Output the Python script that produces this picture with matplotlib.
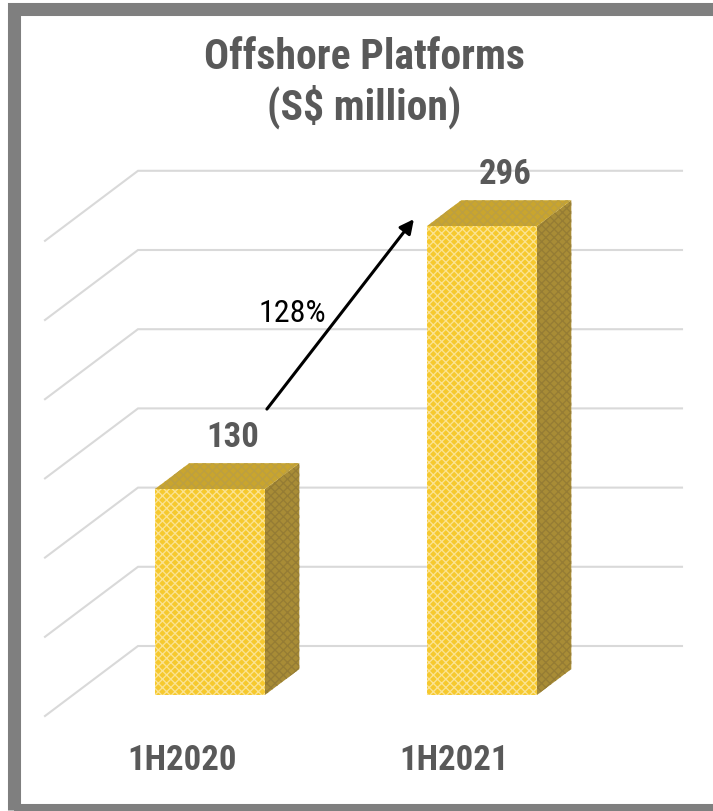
import matplotlib
matplotlib.use("Agg")
import matplotlib.pyplot as plt
from matplotlib.patches import Polygon, Rectangle

categories = ["1H2020", "1H2021"]
values = [130, 296]
grid_values = [0, 50, 100, 150, 200, 250, 300]
growth_label = "128%"
title_text = "Offshore Platforms\n(S$ million)"

W, H = 713, 811
X0_PX, Y0_PX = 182, 716  # canvas position of category 0 / value 0 at the floor front
PX_PER_UNIT = 1.584      # vertical pixels per S$ million
PX_PER_CAT = 272         # horizontal pixels between categories
BAR_W = 110 / PX_PER_CAT
DEPTH_X = 93 / PX_PER_CAT
DEPTH_Y = 70 / PX_PER_UNIT
BAR_D0, BAR_D1 = 0.30, 0.67

GREY_TEXT = "#595959"
plt.rcParams["font.family"] = ["Roboto Condensed", "Liberation Sans", "DejaVu Sans"]
plt.rcParams["hatch.linewidth"] = 0.95

fig = plt.figure(figsize=(W / 100, H / 100), dpi=100)

ax = fig.add_axes([0, 0, 1, 1])
ax.set_xlim(-X0_PX / PX_PER_CAT, (W - X0_PX) / PX_PER_CAT)
ax.set_ylim(-(H - Y0_PX) / PX_PER_UNIT, Y0_PX / PX_PER_UNIT)
ax.axis("off")


def project(x, y, d):
    # oblique projection: d=0 is the front of the floor, d=1 the back wall
    return x + d * DEPTH_X, y + d * DEPTH_Y


# gridlines: slanted along the side wall, then flat along the back wall
x_left = -137 / PX_PER_CAT
x_right = (682 - X0_PX - 93) / PX_PER_CAT
for g in grid_values:
    x0, y0 = project(x_left, g, 0)
    x1, y1 = project(x_left, g, 1)
    x2, y2 = project(x_right, g, 1)
    ax.plot([x0, x1, x2], [y0, y1, y2], color="#D9D9D9", lw=1.5, zorder=1,
            solid_joinstyle="miter")

for i, v in enumerate(values):
    xl, xr = i - BAR_W / 2, i + BAR_W / 2
    fl = project(xl, 0, BAR_D0)
    fr = project(xr, 0, BAR_D0)
    tl = project(xl, v, BAR_D0)
    tr = project(xr, v, BAR_D0)
    br = project(xr, 0, BAR_D1)
    tbr = project(xr, v, BAR_D1)
    tbl = project(xl, v, BAR_D1)
    ax.add_patch(Polygon([fr, br, tbr, tr], closed=True, facecolor="#A88C36",
                         edgecolor="#957C34", hatch="xxxx", lw=0, zorder=3))
    ax.add_patch(Polygon([tl, tr, tbr, tbl], closed=True, facecolor="#C9A52E",
                         edgecolor="#BC9F42", hatch="xxxx", lw=0, zorder=3))
    ax.add_patch(Polygon([fl, fr, tr, tl], closed=True, facecolor="#F6C92E",
                         edgecolor="#FBE393", hatch="xxxx", lw=0, zorder=4))
    cx, cy = project(i, v, BAR_D0)
    ax.text(cx + 23 / PX_PER_CAT, cy + 42 / PX_PER_UNIT, str(v), ha="center", va="baseline",
            fontsize=25, fontweight="bold", color=GREY_TEXT, zorder=6)
    ax.text(i, -45 / PX_PER_UNIT, categories[i], ha="center", va="center",
            fontsize=25, fontweight="bold", color=GREY_TEXT, zorder=6)

# growth arrow from above the first bar towards the top of the second
bar0_x, bar0_y = project(BAR_W / 2, values[0], BAR_D0)
bar1_x, bar1_y = project(1 - BAR_W / 2, values[1], BAR_D0)
ax.annotate("", xy=(bar1_x - 13 / PX_PER_CAT, bar1_y + 7 / PX_PER_UNIT),
            xytext=(bar0_x + 2 / PX_PER_CAT, bar0_y + 80 / PX_PER_UNIT),
            arrowprops=dict(arrowstyle="-|>", color="black", lw=2.2, mutation_scale=21,
                            shrinkA=0, shrinkB=0), zorder=6)
ax.text(0.405, 254, growth_label, ha="center", va="center", fontsize=23, color="black", zorder=6)

fig.text(364 / W, 1 - 83 / H, title_text, ha="center", va="center", fontsize=30,
         fontweight="bold", color=GREY_TEXT, linespacing=1.16)

# thick grey frame, running off the right and bottom edges
fig.add_artist(Rectangle((13.5 / W, 1 - 809.5 / H), 703 / W, 801 / H, fill=False,
                         edgecolor="#7F7F7F", lw=9.4, joinstyle="miter",
                         transform=fig.transFigure))

fig.savefig("out.png", dpi=100)
